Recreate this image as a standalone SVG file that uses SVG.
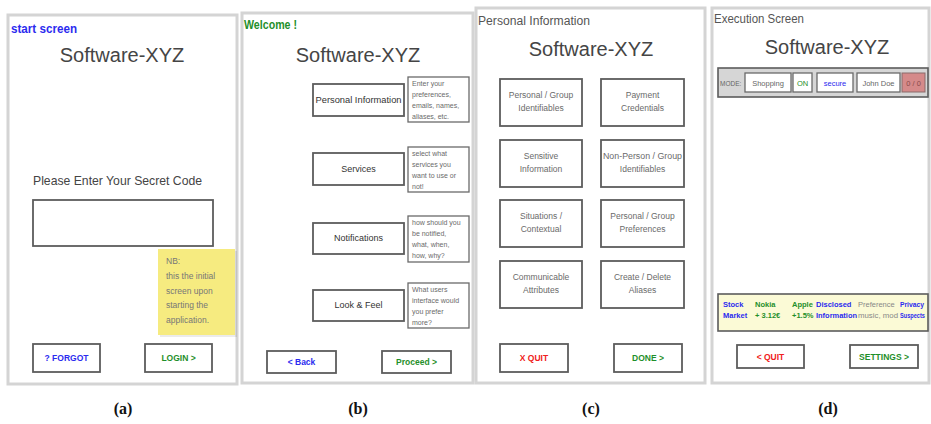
<svg xmlns="http://www.w3.org/2000/svg" width="931" height="424" viewBox="0 0 931 424">
  <style>
    text { font-family: "Liberation Sans", "DejaVu Sans", sans-serif; }
    .frame { fill: #ffffff; stroke: #d4d4d4; stroke-width: 3; }
    .sk { fill: #ffffff; stroke: #5c5c5c; stroke-width: 1.8; }
    .note { fill: #ffffff; stroke: #6a6a6a; stroke-width: 1.3; }
    .title { font-size: 20px; fill: #454545; text-anchor: middle; }
    .hdr { font-size: 12px; fill: #555555; }
    .lbl { font-size: 9px; fill: #333333; text-anchor: middle; }
    .cell { font-size: 8.5px; fill: #6a6a6a; text-anchor: middle; }
    .tip { font-size: 7px; fill: #6a6a6a; }
    .btn { font-size: 8.5px; font-weight: bold; text-anchor: middle; }
    .blue { fill: #2b2bef; }
    .green { fill: #1f8f2a; }
    .red { fill: #f02020; }
    .cap { font-family: "Liberation Serif", serif; font-size: 16px; font-weight: bold; fill: #111111; text-anchor: middle; }
    .bar { font-size: 7.5px; font-weight: bold; }
  </style>

  <!-- (a) start screen -->
  <g id="screen-a">
    <rect class="frame" x="8" y="15" width="229" height="369"/>
    <text x="11" y="33" font-size="12" font-weight="bold" class="blue" textLength="66" lengthAdjust="spacingAndGlyphs">start screen</text>
    <text class="title" x="122" y="62">Software-XYZ</text>
    <text x="33" y="185" font-size="13" fill="#444444" textLength="169" lengthAdjust="spacingAndGlyphs">Please Enter Your Secret Code</text>
    <rect class="sk" x="33" y="200" width="180" height="46"/>
  </g>
  <g id="note-a">
    <rect x="160" y="251" width="77" height="86" fill="#000000" opacity="0.08"/>
    <rect x="158" y="249" width="77" height="86" fill="#f6eb80"/>
    <g font-size="8.5" fill="#777777">
      <text x="166" y="264">NB:</text>
      <text x="166" y="279">this the initial</text>
      <text x="166" y="294">screen upon</text>
      <text x="166" y="308">starting the</text>
      <text x="166" y="323">application.</text>
    </g>
  </g>
  <g id="btn-forgot">
    <rect class="sk" x="33" y="344" width="67" height="28"/>
    <text class="btn blue" x="66.5" y="361">? FORGOT</text>
  </g>
  <g id="btn-login">
    <rect class="sk" x="145" y="344" width="67" height="28"/>
    <text class="btn green" x="178.5" y="361">LOGIN &gt;</text>
  </g>

  <!-- (b) welcome screen -->
  <g id="screen-b">
    <rect class="frame" x="242" y="13" width="231" height="370"/>
    <text x="244" y="29" font-size="13" font-weight="bold" class="green" textLength="53" lengthAdjust="spacingAndGlyphs">Welcome !</text>
    <text class="title" x="358" y="62">Software-XYZ</text>
  </g>
  <g id="opt-personal">
    <rect class="sk" x="313" y="84" width="91" height="32"/>
    <text class="lbl" x="358.5" y="103" textLength="86" lengthAdjust="spacingAndGlyphs">Personal Information</text>
    <rect class="note" x="408" y="77" width="61" height="45"/>
    <text class="tip" x="412" y="86">Enter your</text>
    <text class="tip" x="412" y="97">preferences,</text>
    <text class="tip" x="412" y="108">emails, names,</text>
    <text class="tip" x="412" y="119">aliases, etc.</text>
  </g>
  <g id="opt-services">
    <rect class="sk" x="313" y="153" width="91" height="32"/>
    <text class="lbl" x="358.5" y="172">Services</text>
    <rect class="note" x="408" y="147" width="61" height="45"/>
    <text class="tip" x="412" y="156">select what</text>
    <text class="tip" x="412" y="167">services you</text>
    <text class="tip" x="412" y="178">want to use or</text>
    <text class="tip" x="412" y="189">not!</text>
  </g>
  <g id="opt-notifications">
    <rect class="sk" x="313" y="223" width="91" height="31"/>
    <text class="lbl" x="358.5" y="241">Notifications</text>
    <rect class="note" x="408" y="216" width="61" height="46"/>
    <text class="tip" x="412" y="225">how should you</text>
    <text class="tip" x="412" y="236">be notified,</text>
    <text class="tip" x="412" y="247">what, when,</text>
    <text class="tip" x="412" y="258">how, why?</text>
  </g>
  <g id="opt-lookfeel">
    <rect class="sk" x="313" y="290" width="91" height="31"/>
    <text class="lbl" x="358.5" y="308">Look &amp; Feel</text>
    <rect class="note" x="408" y="283" width="61" height="45"/>
    <text class="tip" x="412" y="292">What users</text>
    <text class="tip" x="412" y="303">interface would</text>
    <text class="tip" x="412" y="314">you prefer</text>
    <text class="tip" x="412" y="325">more?</text>
  </g>
  <g id="btn-back">
    <rect class="sk" x="267" y="351" width="69" height="22"/>
    <text class="btn blue" x="301.5" y="365">&lt; Back</text>
  </g>
  <g id="btn-proceed">
    <rect class="sk" x="382" y="351" width="69" height="22"/>
    <text class="btn green" x="416.5" y="365">Proceed &gt;</text>
  </g>

  <!-- (c) personal information -->
  <g id="screen-c">
    <rect class="frame" x="476" y="8" width="229" height="375"/>
    <text class="hdr" x="478" y="25" textLength="112" lengthAdjust="spacingAndGlyphs">Personal Information</text>
    <text class="title" x="591" y="56">Software-XYZ</text>
  </g>
  <g id="cat-identifiables">
    <rect class="sk" x="500" y="79" width="82" height="47"/>
    <text class="cell" x="541" y="98">Personal / Group</text>
    <text class="cell" x="541" y="111">Identifiables</text>
  </g>
  <g id="cat-payment">
    <rect class="sk" x="601" y="79" width="83" height="47"/>
    <text class="cell" x="642.5" y="98">Payment</text>
    <text class="cell" x="642.5" y="111">Credentials</text>
  </g>
  <g id="cat-sensitive">
    <rect class="sk" x="500" y="140" width="82" height="47"/>
    <text class="cell" x="541" y="159">Sensitive</text>
    <text class="cell" x="541" y="172">Information</text>
  </g>
  <g id="cat-nonperson">
    <rect class="sk" x="601" y="140" width="83" height="47"/>
    <text class="cell" x="642.5" y="159" textLength="79" lengthAdjust="spacingAndGlyphs">Non-Person / Group</text>
    <text class="cell" x="642.5" y="172">Identifiables</text>
  </g>
  <g id="cat-situations">
    <rect class="sk" x="500" y="200" width="82" height="47"/>
    <text class="cell" x="541" y="219">Situations /</text>
    <text class="cell" x="541" y="232">Contextual</text>
  </g>
  <g id="cat-preferences">
    <rect class="sk" x="601" y="200" width="83" height="47"/>
    <text class="cell" x="642.5" y="219">Personal / Group</text>
    <text class="cell" x="642.5" y="232">Preferences</text>
  </g>
  <g id="cat-communicable">
    <rect class="sk" x="500" y="261" width="82" height="47"/>
    <text class="cell" x="541" y="280">Communicable</text>
    <text class="cell" x="541" y="293">Attributes</text>
  </g>
  <g id="cat-aliases">
    <rect class="sk" x="601" y="261" width="83" height="47"/>
    <text class="cell" x="642.5" y="280">Create / Delete</text>
    <text class="cell" x="642.5" y="293">Aliases</text>
  </g>
  <g id="btn-quit-c">
    <rect class="sk" x="500" y="344" width="68" height="28"/>
    <text class="btn red" x="534" y="361">X QUIT</text>
  </g>
  <g id="btn-done">
    <rect class="sk" x="614" y="344" width="68" height="28"/>
    <text class="btn green" x="648" y="361">DONE &gt;</text>
  </g>

  <!-- (d) execution screen -->
  <g id="screen-d">
    <rect class="frame" x="712" y="8" width="217" height="375"/>
    <text class="hdr" x="714" y="23" textLength="90" lengthAdjust="spacingAndGlyphs">Execution Screen</text>
    <text class="title" x="827" y="54">Software-XYZ</text>
  </g>
  <g id="status-bar">
    <rect x="718" y="68" width="210" height="29" fill="#d6d6d6" stroke="#5c5c5c" stroke-width="1.6"/>
    <text x="720" y="86" font-size="6.5" fill="#666666">MODE:</text>
    <g font-size="7.5">
      <rect class="note" x="745" y="73" width="46" height="19"/>
      <text x="768" y="86" text-anchor="middle" fill="#666666">Shopping</text>
      <rect class="note" x="793" y="73" width="19" height="19"/>
      <text x="802.5" y="86" text-anchor="middle" class="green">ON</text>
      <rect class="note" x="817" y="73" width="36" height="19"/>
      <text x="835" y="86" text-anchor="middle" class="blue">secure</text>
      <rect class="note" x="857" y="73" width="43" height="19"/>
      <text x="878.5" y="86" text-anchor="middle" fill="#666666">John Doe</text>
      <rect x="902" y="73" width="23" height="19" fill="#d58a8a" stroke="#8a6a6a" stroke-width="1"/>
      <text x="913.5" y="86" text-anchor="middle" fill="#8a4a4a">0 / 0</text>
    </g>
  </g>
  <g id="info-bar">
    <rect x="718" y="294" width="210" height="37" fill="#fbfad6" stroke="#5c5c5c" stroke-width="1.6"/>
    <text class="bar blue" x="723" y="307">Stock</text>
    <text class="bar blue" x="723" y="318">Market</text>
    <text class="bar green" x="755" y="307">Nokia</text>
    <text class="bar green" x="755" y="318">+ 3.12€</text>
    <text class="bar green" x="792" y="307">Apple</text>
    <text class="bar green" x="792" y="318">+1.5%</text>
    <text class="bar blue" x="816" y="307">Disclosed</text>
    <text class="bar blue" x="816" y="318" textLength="41" lengthAdjust="spacingAndGlyphs">Information</text>
    <text x="858" y="307" font-size="7.5" fill="#888888">Preference</text>
    <text x="858" y="318" font-size="7.5" fill="#888888" textLength="40" lengthAdjust="spacingAndGlyphs">music, mod</text>
    <text class="bar blue" x="900" y="307" font-size="7" textLength="24" lengthAdjust="spacingAndGlyphs">Privacy</text>
    <text class="bar blue" x="900" y="318" font-size="7" textLength="25" lengthAdjust="spacingAndGlyphs">Suspects</text>
  </g>
  <g id="btn-quit-d">
    <rect class="sk" x="737" y="345" width="67" height="23"/>
    <text class="btn red" x="770.5" y="360">&lt; QUIT</text>
  </g>
  <g id="btn-settings">
    <rect class="sk" x="850" y="345" width="68" height="23"/>
    <text class="btn green" x="884" y="360">SETTINGS &gt;</text>
  </g>

  <!-- sub-figure captions -->
  <g id="captions">
    <text class="cap" x="123" y="414">(a)</text>
    <text class="cap" x="358" y="414">(b)</text>
    <text class="cap" x="591" y="414">(c)</text>
    <text class="cap" x="828" y="414">(d)</text>
  </g>
</svg>
